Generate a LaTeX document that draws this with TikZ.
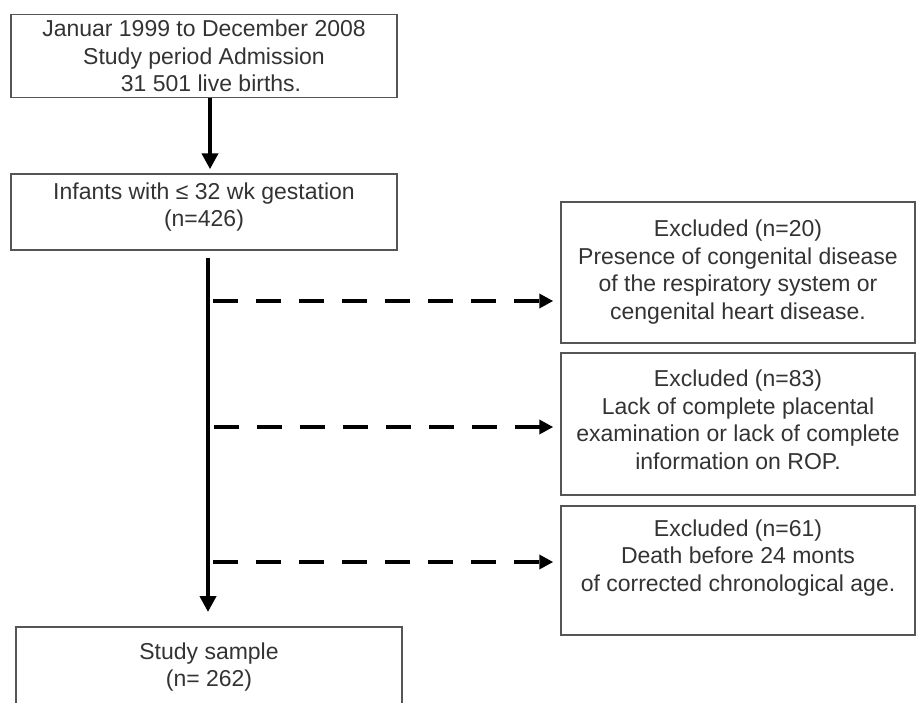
\documentclass[tikz,border=0pt]{standalone}
\usepackage{fontspec}
\setmainfont{Liberation Sans}
\usetikzlibrary{arrows.meta,calc}
\definecolor{txt}{HTML}{333333}
\definecolor{brd}{HTML}{555555}
\begin{document}
\begin{tikzpicture}[x=1pt,y=-1pt,
  box/.style={draw=brd,line width=1.5pt,rectangle,inner sep=0pt},
  lbl/.style={text=txt,align=center,inner sep=0pt,font=\fontsize{23}{27.5}\selectfont},
  solidarrow/.style={line width=4.5pt,-{Triangle[length=16pt,width=16pt]}},
  dasharrow/.style={line width=4.5pt,dash pattern=on 25pt off 18pt,-{Triangle[length=14pt,width=14pt]}}]
\useasboundingbox (0,0) rectangle (917,702);
\node[box,minimum width=386pt,minimum height=83pt] (b1) at (204,56) {};
\node[lbl] (t1) at (204,56) {Januar 1999 to December 2008\\Study period Admission\\\hspace*{14pt}31 501 live births.};
\node[box,minimum width=386pt,minimum height=76pt] (b2) at (204,212) {};
\node[lbl] (t2) at (204,207) {Infants with ≤ 32 wk gestation\\(n=426)};
\node[box,minimum width=386pt,minimum height=100pt] (b4) at (209,677) {};
\node[lbl] (t4) at (209,667) {Study sample\\(n= 262)};
\node[box,minimum width=354pt,minimum height=141pt] (bA) at (738,272.5) {};
\node[lbl] (tA) at (738,272) {Excluded (n=20)\\Presence of congenital disease\\of the respiratory system or\\cengenital heart disease.};
\node[box,minimum width=354pt,minimum height=142pt] (bB) at (738,424) {};
\node[lbl] (tB) at (738,420) {Excluded (n=83)\\Lack of complete placental\\examination or lack of complete\\information on ROP.};
\node[box,minimum width=354pt,minimum height=129pt] (bC) at (738,570.5) {};
\node[lbl] (tC) at (738,558) {Excluded (n=61)\\Death before 24 monts\\of corrected chronological age.};
\draw[solidarrow,shorten >=4pt] (b1.south -| 210,0) -- (b2.north -| 210,0);
\coordinate (v0) at (208,258);
\coordinate (v1) at (208,610);
\draw[solidarrow] (v0) -- ($(v1)+(0,2)$);
\coordinate (d1) at (213,301);
\coordinate (d2) at (214,427);
\coordinate (d3) at (213,562);
\draw[dasharrow,shorten >=7pt] (d1) -- (d1 -| bA.west);
\draw[dasharrow,shorten >=7pt] (d2) -- (d2 -| bB.west);
\draw[dasharrow,shorten >=7pt] (d3) -- (d3 -| bC.west);
\end{tikzpicture}
\end{document}
